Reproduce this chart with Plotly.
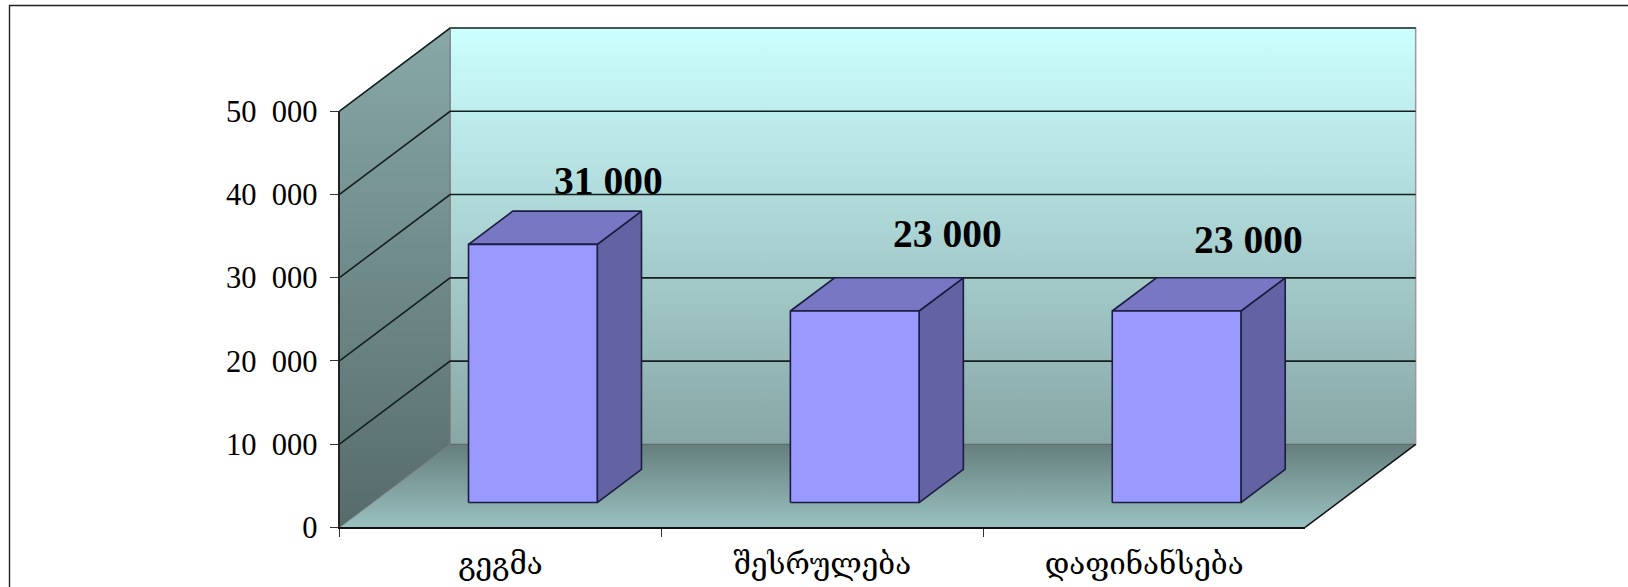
import plotly.graph_objects as go

# --- data -------------------------------------------------------------
categories = ["გეგმა", "შესრულება", "დაფინანსება"]
values = [31000, 23000, 23000]
value_labels = ["31 000", "23 000", "23 000"]
tick_values = [0, 10000, 20000, 30000, 40000, 50000]
tick_labels = ["0", "10\u00a0\u00a0000", "20\u00a0\u00a0000", "30\u00a0\u00a0000", "40\u00a0\u00a0000", "50\u00a0\u00a0000"]

# --- layout constants -------------------------------------------------
W, H = 1628, 587
S = 1628 / 1568                   # geometry below was measured at 1568 px wide
X0_PX, X1_PX = 327.0 * S, 1257.0 * S      # front plane, left / right
Y0_PX, Y1_PX = 508.0 * S, 107.0 * S       # front plane, value 0 / 50000
NCAT = len(categories)
VMAX = tick_values[-1]
PX_PER_CAT = (X1_PX - X0_PX) / NCAT
PX_PER_VAL = (Y0_PX - Y1_PX) / VMAX
DEPTH_X = 106.5 * S / PX_PER_CAT      # full depth in category units
DEPTH_Y = 80.0 * S / PX_PER_VAL       # full depth in value units
BAR_W = 124.0 * S / PX_PER_CAT
BAR_NUDGE = -0.7 * S / PX_PER_CAT
BAR_FRONT = 0.30                  # bar front, as a fraction of the depth
BAR_DEPTH = 0.40                  # bar depth, as a fraction of the depth
LABEL_SHIFT = [(72.7 * S, 61 * S), (89.7 * S, 74 * S), (69.7 * S, 68 * S)]  # hand-placed labels, in px

xrange_full = [-X0_PX / PX_PER_CAT, (W - X0_PX) / PX_PER_CAT]
yrange_full = [-(H - Y0_PX) / PX_PER_VAL, Y0_PX / PX_PER_VAL]

GRID = "#151f1f"
SERIF = "Liberation Serif, Times New Roman, serif"
GEO = "DejaVu Serif, serif"

fig = go.Figure()


def poly(xs, ys, fill=None, grad=None, line="rgba(0,0,0,0)", lw=0.0):
    kw = {}
    if grad:
        kw["fillgradient"] = dict(type="vertical", colorscale=[[0, grad[0]], [1, grad[1]]])
    else:
        kw["fillcolor"] = fill
    fig.add_trace(go.Scatter(
        x=list(xs) + [xs[0]], y=list(ys) + [ys[0]], mode="lines", fill="toself",
        line=dict(color=line, width=lw), hoverinfo="skip", showlegend=False, **kw))


def seg(xs, ys, color=GRID, lw=1.6):
    fig.add_trace(go.Scatter(x=xs, y=ys, mode="lines", line=dict(color=color, width=lw),
                             hoverinfo="skip", showlegend=False))


# back wall, floor, side wall (gradient stops run bottom -> top)
poly([DEPTH_X, NCAT + DEPTH_X, NCAT + DEPTH_X, DEPTH_X],
     [DEPTH_Y, DEPTH_Y, VMAX + DEPTH_Y, VMAX + DEPTH_Y],
     grad=("#88A6A6", "#CCFFFF"), line="#9a9a9a", lw=1.5)
poly([0, NCAT, NCAT + DEPTH_X, DEPTH_X], [0, 0, DEPTH_Y, DEPTH_Y],
     grad=("#9AC1C1", "#657F7D"))
poly([0, DEPTH_X, DEPTH_X, 0], [0, DEPTH_Y, VMAX + DEPTH_Y, VMAX],
     grad=("#566B6B", "#88A8A8"), line="#777777", lw=1.0)

# gridlines across the side wall and back wall
for v in tick_values[1:]:
    seg([0, DEPTH_X, NCAT + DEPTH_X], [v, v + DEPTH_Y, v + DEPTH_Y])
seg([DEPTH_X, NCAT + DEPTH_X], [VMAX + DEPTH_Y, VMAX + DEPTH_Y], color="#4a5a5a", lw=1.5)
seg([DEPTH_X, NCAT + DEPTH_X], [DEPTH_Y, DEPTH_Y], color="#5c6e6e", lw=1.2)
seg([NCAT, NCAT + DEPTH_X], [0, DEPTH_Y], color="#111111", lw=1.5)

# bars
EDGE = "#1c1c40"
for i, v in enumerate(values):
    xl = i + 0.5 + BAR_FRONT * DEPTH_X - BAR_W / 2 + BAR_NUDGE
    xr = xl + BAR_W
    yb = BAR_FRONT * DEPTH_Y
    yt = yb + v
    dx = BAR_DEPTH * DEPTH_X
    dy = BAR_DEPTH * DEPTH_Y
    poly([xr, xr + dx, xr + dx, xr], [yb, yb + dy, yt + dy, yt], fill="#6363A3", line=EDGE, lw=1.6)
    poly([xl, xr, xr + dx, xl + dx], [yt, yt, yt + dy, yt + dy], fill="#7777C4", line=EDGE, lw=1.6)
    poly([xl, xr, xr, xl], [yb, yb, yt, yt], fill="#9999FF", line=EDGE, lw=1.6)
    fig.add_annotation(x=(xl + xr) / 2, y=yt, text=value_labels[i], showarrow=False,
                       xref="x", yref="y", xanchor="center", yanchor="middle",
                       xshift=LABEL_SHIFT[i][0], yshift=LABEL_SHIFT[i][1],
                       font=dict(family=SERIF, size=39.5, color="black", weight="bold"))

# carrier for the visible axes
fig.add_trace(go.Bar(x=categories, y=values, xaxis="x2", yaxis="y2", opacity=0,
                     hoverinfo="skip", showlegend=False))

fig.update_layout(
    width=W, height=H, autosize=False,
    margin=dict(l=0, r=0, t=0, b=0),
    paper_bgcolor="white", plot_bgcolor="rgba(0,0,0,0)",
    xaxis=dict(domain=[0, 1], range=xrange_full, visible=False, fixedrange=True, automargin=False),
    yaxis=dict(domain=[0, 1], range=yrange_full, visible=False, fixedrange=True, automargin=False),
    xaxis2=dict(domain=[X0_PX / W, X1_PX / W], anchor="y2", type="category", automargin=False,
                categoryorder="array", categoryarray=categories, tickson="boundaries",
                ticks="outside", ticklen=8, tickcolor="#333333", tickwidth=1,
                ticklabelstandoff=9,
                showline=True, linecolor="#111111", linewidth=1.8, showgrid=False,
                tickfont=dict(family=GEO, size=29.5, color="black"), fixedrange=True),
    yaxis2=dict(domain=[(H - Y0_PX) / H, (H - Y1_PX) / H], anchor="x2", automargin=False,
                range=[0, VMAX], tickmode="array", tickvals=tick_values, ticktext=tick_labels,
                ticks="outside", ticklen=8, tickcolor="#333333", tickwidth=1,
                ticklabelstandoff=6,
                showline=True, linecolor="#222222", linewidth=1.6, showgrid=False, zeroline=False,
                tickfont=dict(family=SERIF, size=30.5, color="black"), fixedrange=True),
    shapes=[dict(type="path", xref="paper", yref="paper",
                 path=f"M {9.5 / W} 0 L {9.5 / W} {1 - 5.5 / H} L 1 {1 - 5.5 / H}",
                 line=dict(color="#222222", width=1.4))],
)

fig.write_html("out.html", config={"displayModeBar": False},
               post_script="document.body.style.margin='0';document.body.style.overflow='hidden';")
